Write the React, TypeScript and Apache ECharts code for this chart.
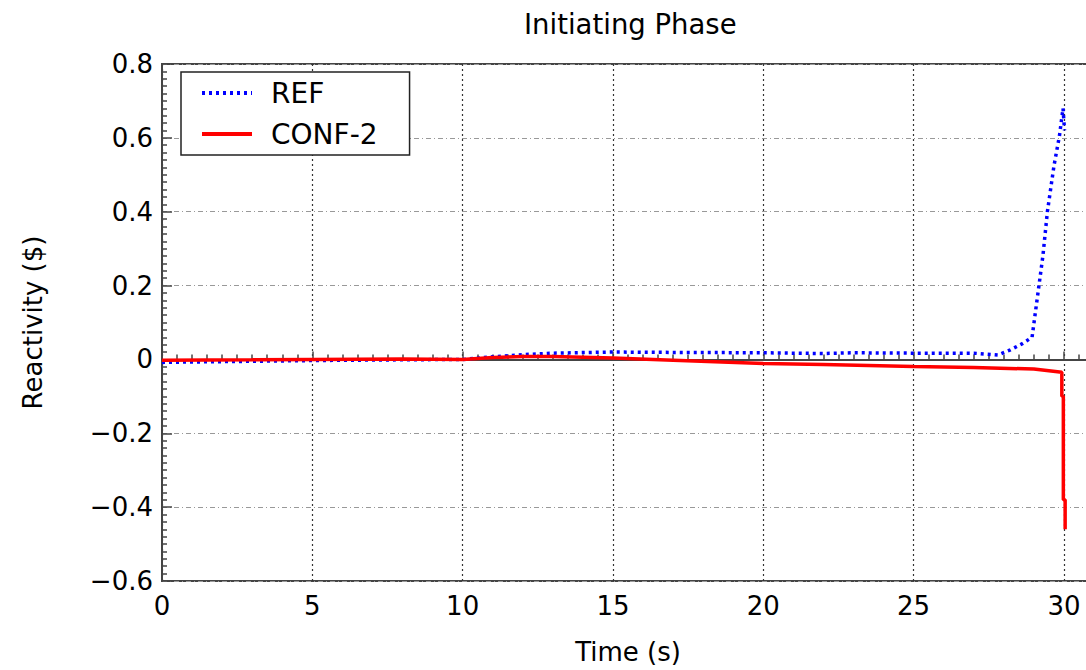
import React, { useEffect, useRef } from "react";
import * as echarts from "echarts";

const refTime = [0, 2, 5, 8, 10, 11, 12, 13, 15, 17, 20, 22, 23, 25, 27, 27.8, 28.2, 28.6, 28.94, 29.3, 29.45, 29.67, 29.85, 29.97, 30.02];
const refValue = [-0.008, -0.006, -0.003, -0.001, 0, 0.007, 0.013, 0.017, 0.02, 0.019, 0.018, 0.016, 0.018, 0.017, 0.017, 0.012, 0.025, 0.042, 0.06, 0.28, 0.4, 0.525, 0.605, 0.68, 0.62];

const confTime = [0, 3, 5, 8, 10, 11, 12, 13, 15, 17, 20, 22, 25, 27, 29, 29.93, 29.93, 29.98, 29.98, 30.04, 30.04];
const confValue = [-0.002, -0.001, 0, 0.001, 0, 0.005, 0.008, 0.008, 0.004, -0.002, -0.011, -0.014, -0.019, -0.022, -0.026, -0.035, -0.1, -0.1, -0.38, -0.38, -0.46];

const seriesNames = ["REF", "CONF-2"];
const titleText = "Initiating Phase";
const xName = "Time (s)";
const yName = "Reactivity ($)";

const FONT = "DejaVu Sans";

export default function App() {
  const ref = useRef<HTMLDivElement>(null);
  useEffect(() => {
    if (!ref.current) return;
    const chart = echarts.init(ref.current, null, { renderer: "svg" });
    chart.setOption({
      animation: false,
      backgroundColor: "#ffffff",
      title: {
        text: titleText,
        left: 519,
        top: 5,
        textStyle: { fontFamily: FONT, fontSize: 27.5, fontWeight: "normal", color: "#000" },
      },
      legend: {
        orient: "vertical",
        left: 181,
        top: 72,
        backgroundColor: "#fff",
        borderColor: "#222",
        borderWidth: 1.5,
        borderRadius: 0,
        padding: [7, 32, 7, 19],
        itemWidth: 50,
        itemHeight: 4,
        itemGap: 13,
        itemStyle: { opacity: 0 },
        lineStyle: { width: 4 },
        textStyle: { fontFamily: FONT, fontSize: 28, color: "#000", padding: [0, 0, 0, 14] },
        data: seriesNames,
      },
      grid: {
        left: 162,
        top: 64,
        width: 932,
        height: 521,
        show: true,
        borderColor: "#444",
        borderWidth: 2,
        backgroundColor: "transparent",
      },
      xAxis: {
        type: "value",
        min: 0,
        max: 31,
        interval: 5,
        name: xName,
        nameLocation: "middle",
        nameGap: 58,
        nameTextStyle: { fontFamily: FONT, fontSize: 26, color: "#000" },
        axisLine: { lineStyle: { color: "#444", width: 2 } },
        axisTick: { inside: true, length: 8, lineStyle: { color: "#444", width: 1.5 } },
        minorTick: { show: true, splitNumber: 10, length: 5, lineStyle: { color: "#444", width: 1.5 } },
        axisLabel: {
          fontFamily: FONT,
          fontSize: 26,
          color: "#000",
          margin: 12,
          showMaxLabel: false,
          formatter: (v: number) => (v > 30 ? "" : String(v)),
        },
        splitLine: { show: true, lineStyle: { color: "#333", type: [2, 3], width: 1.2 } },
      },
      yAxis: {
        type: "value",
        min: -0.6,
        max: 0.8,
        interval: 0.2,
        name: yName,
        nameLocation: "middle",
        nameGap: 116,
        nameRotate: 90,
        nameTextStyle: { fontFamily: FONT, fontSize: 26, color: "#000" },
        axisLine: { lineStyle: { color: "#444", width: 2 } },
        axisTick: { inside: true, length: 10, lineStyle: { color: "#444", width: 1.5 } },
        minorTick: { show: true, splitNumber: 10, length: 5, lineStyle: { color: "#444", width: 1.5 } },
        axisLabel: {
          fontFamily: FONT,
          fontSize: 26,
          color: "#000",
          margin: 9,
          formatter: (v: number) => {
            const r = Math.round(v * 10) / 10;
            if (r === 0) return "0";
            return r < 0 ? "\u2212" + Math.abs(r).toFixed(1) : r.toFixed(1);
          },
        },
        splitLine: { show: true, lineStyle: { color: "#999", type: [5, 3, 1, 3], width: 1.2 } },
      },
      series: [
        {
          name: seriesNames[0],
          type: "line",
          symbol: "none",
          data: refTime.map((t, i) => [t, refValue[i]]),
          lineStyle: { color: "#0000ff", width: 3.5, type: [3, 4], cap: "butt" },
          itemStyle: { color: "#0000ff" },
          z: 2,
        },
        {
          name: seriesNames[1],
          type: "line",
          symbol: "none",
          data: confTime.map((t, i) => [t, confValue[i]]),
          lineStyle: { color: "#ff0000", width: 3.5 },
          itemStyle: { color: "#ff0000" },
          z: 3,
        },
      ],
    });
    return () => chart.dispose();
  }, []);
  return (
    <div style={{ position: "fixed", left: 0, top: 0, width: 1086, height: 670, overflow: "hidden", background: "#fff" }}>
      <div ref={ref} style={{ width: 1150, height: 670 }} />
    </div>
  );
}
